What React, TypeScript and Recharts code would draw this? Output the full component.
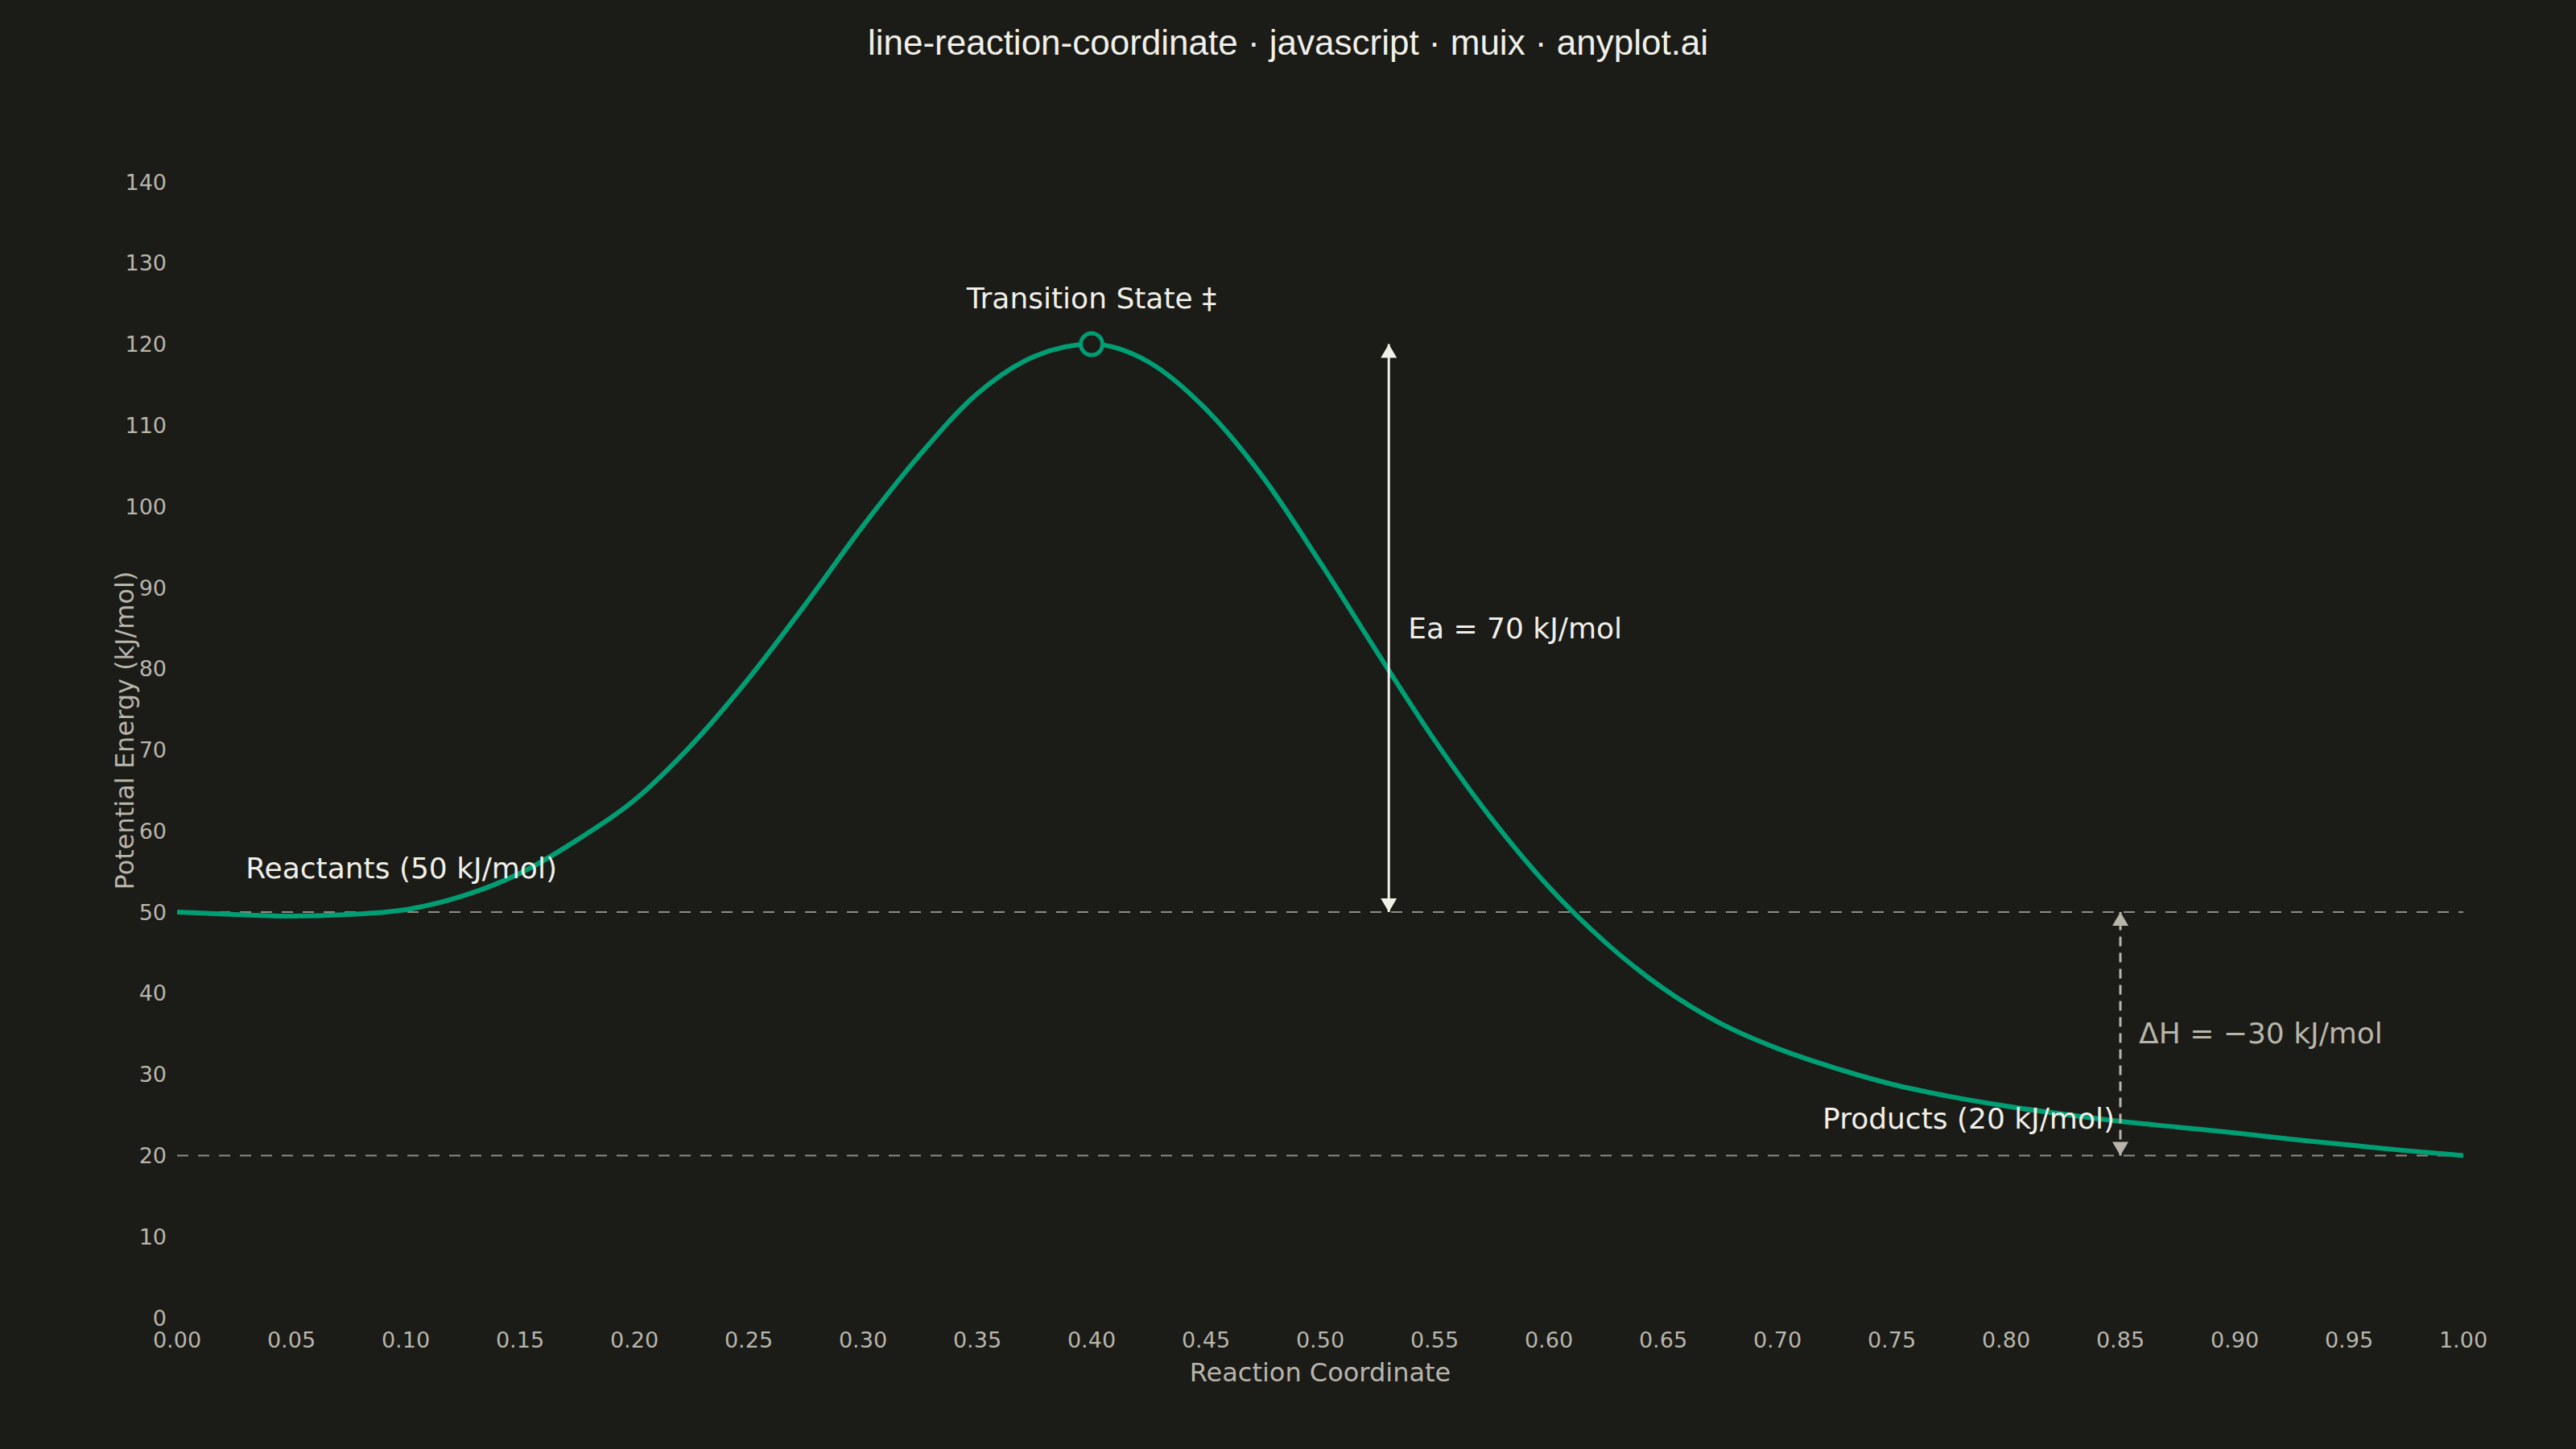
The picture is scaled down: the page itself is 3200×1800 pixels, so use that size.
import {
  Label,
  Line,
  LineChart,
  ReferenceDot,
  ReferenceLine,
  XAxis,
  YAxis,
} from 'recharts'

// reaction coordinate (x) and potential energy in kJ/mol (y)
const reactionCoordinate = [
  0, 0.025, 0.05, 0.075, 0.1, 0.125, 0.15, 0.175, 0.2, 0.225, 0.25, 0.275, 0.3,
  0.325, 0.35, 0.375, 0.4, 0.425, 0.45, 0.475, 0.5, 0.525, 0.55, 0.575, 0.6,
  0.625, 0.65, 0.675, 0.7, 0.725, 0.75, 0.775, 0.8, 0.825, 0.85, 0.875, 0.9,
  0.925, 0.95, 0.975, 1,
]
const potentialEnergy = [
  50.0, 49.7, 49.5, 49.7, 50.3, 52.0, 54.8, 58.9, 63.8, 70.6, 78.8, 88.0, 97.6,
  106.4, 113.9, 118.5, 120.0, 117.8, 112.0, 103.6, 93.1, 82.0, 71.2, 61.5, 53.1,
  46.2, 40.6, 36.3, 33.2, 30.8, 28.8, 27.3, 26.1, 25.1, 24.2, 23.5, 22.8, 22.0,
  21.3, 20.6, 20.0,
]

const xTicks = [
  0, 0.05, 0.1, 0.15, 0.2, 0.25, 0.3, 0.35, 0.4, 0.45, 0.5, 0.55, 0.6, 0.65, 0.7,
  0.75, 0.8, 0.85, 0.9, 0.95, 1,
]
const yTicks = [0, 10, 20, 30, 40, 50, 60, 70, 80, 90, 100, 110, 120, 130, 140]

const REACTANT_ENERGY = 50
const PRODUCT_ENERGY = 20
const TS_COORD = 0.4
const TS_ENERGY = 120
const EA_COORD = 0.53
const EA_LABEL_ENERGY = 85
const DH_COORD = 0.85
const DH_LABEL_ENERGY = 35
const REACTANT_LABEL_COORD = 0.03

const data = reactionCoordinate.map((x, i) => ({ x, energy: potentialEnergy[i] }))

const BG = '#1b1b17'
const GREEN = '#009E73'
const INK = '#f0efe8'
const MUTED = '#b8b5ab'
const DASH = '#8e8c85'
const FONT = '"DejaVu Sans", sans-serif'

const textAt =
  (text: string, dx: number, dy: number, anchor: 'start' | 'middle' | 'end', fill = INK) =>
  // eslint-disable-next-line @typescript-eslint/no-explicit-any
  (props: any) => (
    <text
      x={Number(props.cx) + dx}
      y={Number(props.cy) + dy}
      textAnchor={anchor}
      fill={fill}
      fontSize={36}
      fontFamily={FONT}
    >
      {text}
    </text>
  )

const arrowHead =
  (dir: 'up' | 'down', fill: string) =>
  // eslint-disable-next-line @typescript-eslint/no-explicit-any
  (props: any) => {
    const cx = Number(props.cx)
    const cy = Number(props.cy)
    const h = dir === 'up' ? 17 : -17
    return (
      <polygon
        points={`${cx},${cy} ${cx - 10},${cy + h} ${cx + 10},${cy + h}`}
        fill={fill}
      />
    )
  }

export default function App() {
  return (
    <div
      style={{
        position: 'absolute',
        top: 0,
        left: 0,
        width: 3200,
        height: 1800,
        background: BG,
      }}
    >
      <div
        style={{
          position: 'absolute',
          top: 23,
          left: 0,
          width: 3200,
          textAlign: 'center',
          color: INK,
          fontFamily: '"Liberation Sans", Arial, sans-serif',
          fontSize: 44,
          lineHeight: '60px',
        }}
      >
        line-reaction-coordinate · javascript · muix · anyplot.ai
      </div>
      <LineChart
        width={3200}
        height={1800}
        data={data}
        margin={{ top: 226, right: 140, bottom: 83, left: 100 }}
      >
        <XAxis
          type="number"
          dataKey="x"
          domain={[0, 1]}
          ticks={xTicks}
          tickFormatter={(v: number) => v.toFixed(2)}
          axisLine={false}
          tickLine={false}
          tickSize={0}
          tickMargin={18}
          height={80}
          interval={0}
          tick={{ fontSize: 27, fill: MUTED, fontFamily: FONT }}
        >
          <Label
            // eslint-disable-next-line @typescript-eslint/no-explicit-any
            content={(props: any) => {
              const vb = props.viewBox ?? {}
              return (
                <text
                  x={vb.x + vb.width / 2}
                  y={vb.y + 79}
                  textAnchor="middle"
                  fill={MUTED}
                  fontSize={32}
                  fontFamily={FONT}
                >
                  Reaction Coordinate
                </text>
              )
            }}
          />
        </XAxis>
        <YAxis
          type="number"
          domain={[0, 140]}
          ticks={yTicks}
          axisLine={false}
          tickLine={false}
          tickSize={0}
          tickMargin={13}
          width={120}
          interval={0}
          tick={{ fontSize: 27, fill: MUTED, fontFamily: FONT }}
        >
          <Label
            // eslint-disable-next-line @typescript-eslint/no-explicit-any
            content={(props: any) => {
              const vb = props.viewBox ?? {}
              const x = vb.x + 66
              const y = vb.y + vb.height / 2 - 24
              return (
                <text
                  x={x}
                  y={y}
                  transform={`rotate(-90 ${x} ${y})`}
                  textAnchor="middle"
                  fill={MUTED}
                  fontSize={32}
                  fontFamily={FONT}
                >
                  Potential Energy (kJ/mol)
                </text>
              )
            }}
          />
        </YAxis>

        <ReferenceLine y={REACTANT_ENERGY} stroke={DASH} strokeWidth={2} strokeDasharray="14 12" />
        <ReferenceLine y={PRODUCT_ENERGY} stroke={DASH} strokeWidth={2} strokeDasharray="14 12" />

        <Line
          type="monotone"
          dataKey="energy"
          stroke={GREEN}
          strokeWidth={6}
          dot={false}
          activeDot={false}
          isAnimationActive={false}
        />

        {/* activation energy arrow */}
        <ReferenceLine
          segment={[
            { x: EA_COORD, y: REACTANT_ENERGY },
            { x: EA_COORD, y: TS_ENERGY },
          ]}
          stroke={INK}
          strokeWidth={3}
        />
        <ReferenceDot x={EA_COORD} y={TS_ENERGY} shape={arrowHead('up', INK)} />
        <ReferenceDot x={EA_COORD} y={REACTANT_ENERGY} shape={arrowHead('down', INK)} />
        <ReferenceDot
          x={EA_COORD}
          y={EA_LABEL_ENERGY}
          shape={textAt('Ea = 70 kJ/mol', 24, 13, 'start')}
        />

        {/* enthalpy change arrow */}
        <ReferenceLine
          segment={[
            { x: DH_COORD, y: PRODUCT_ENERGY },
            { x: DH_COORD, y: REACTANT_ENERGY },
          ]}
          stroke={MUTED}
          strokeWidth={3}
          strokeDasharray="12 8"
        />
        <ReferenceDot x={DH_COORD} y={REACTANT_ENERGY} shape={arrowHead('up', MUTED)} />
        <ReferenceDot x={DH_COORD} y={PRODUCT_ENERGY} shape={arrowHead('down', MUTED)} />
        <ReferenceDot
          x={DH_COORD}
          y={DH_LABEL_ENERGY}
          shape={textAt('ΔH = −30 kJ/mol', 23, 12, 'start', MUTED)}
        />

        {/* state labels */}
        <ReferenceDot
          x={REACTANT_LABEL_COORD}
          y={REACTANT_ENERGY}
          shape={textAt('Reactants (50 kJ/mol)', 0, -42, 'start')}
        />
        <ReferenceDot
          x={DH_COORD}
          y={PRODUCT_ENERGY}
          shape={textAt('Products (20 kJ/mol)', -7, -33, 'end')}
        />
        <ReferenceDot
          x={TS_COORD}
          y={TS_ENERGY}
          shape={textAt('Transition State ‡', 0, -45, 'middle')}
        />
        <ReferenceDot
          x={TS_COORD}
          y={TS_ENERGY}
          r={13.5}
          fill={BG}
          stroke={GREEN}
          strokeWidth={5}
        />
      </LineChart>
    </div>
  )
}
